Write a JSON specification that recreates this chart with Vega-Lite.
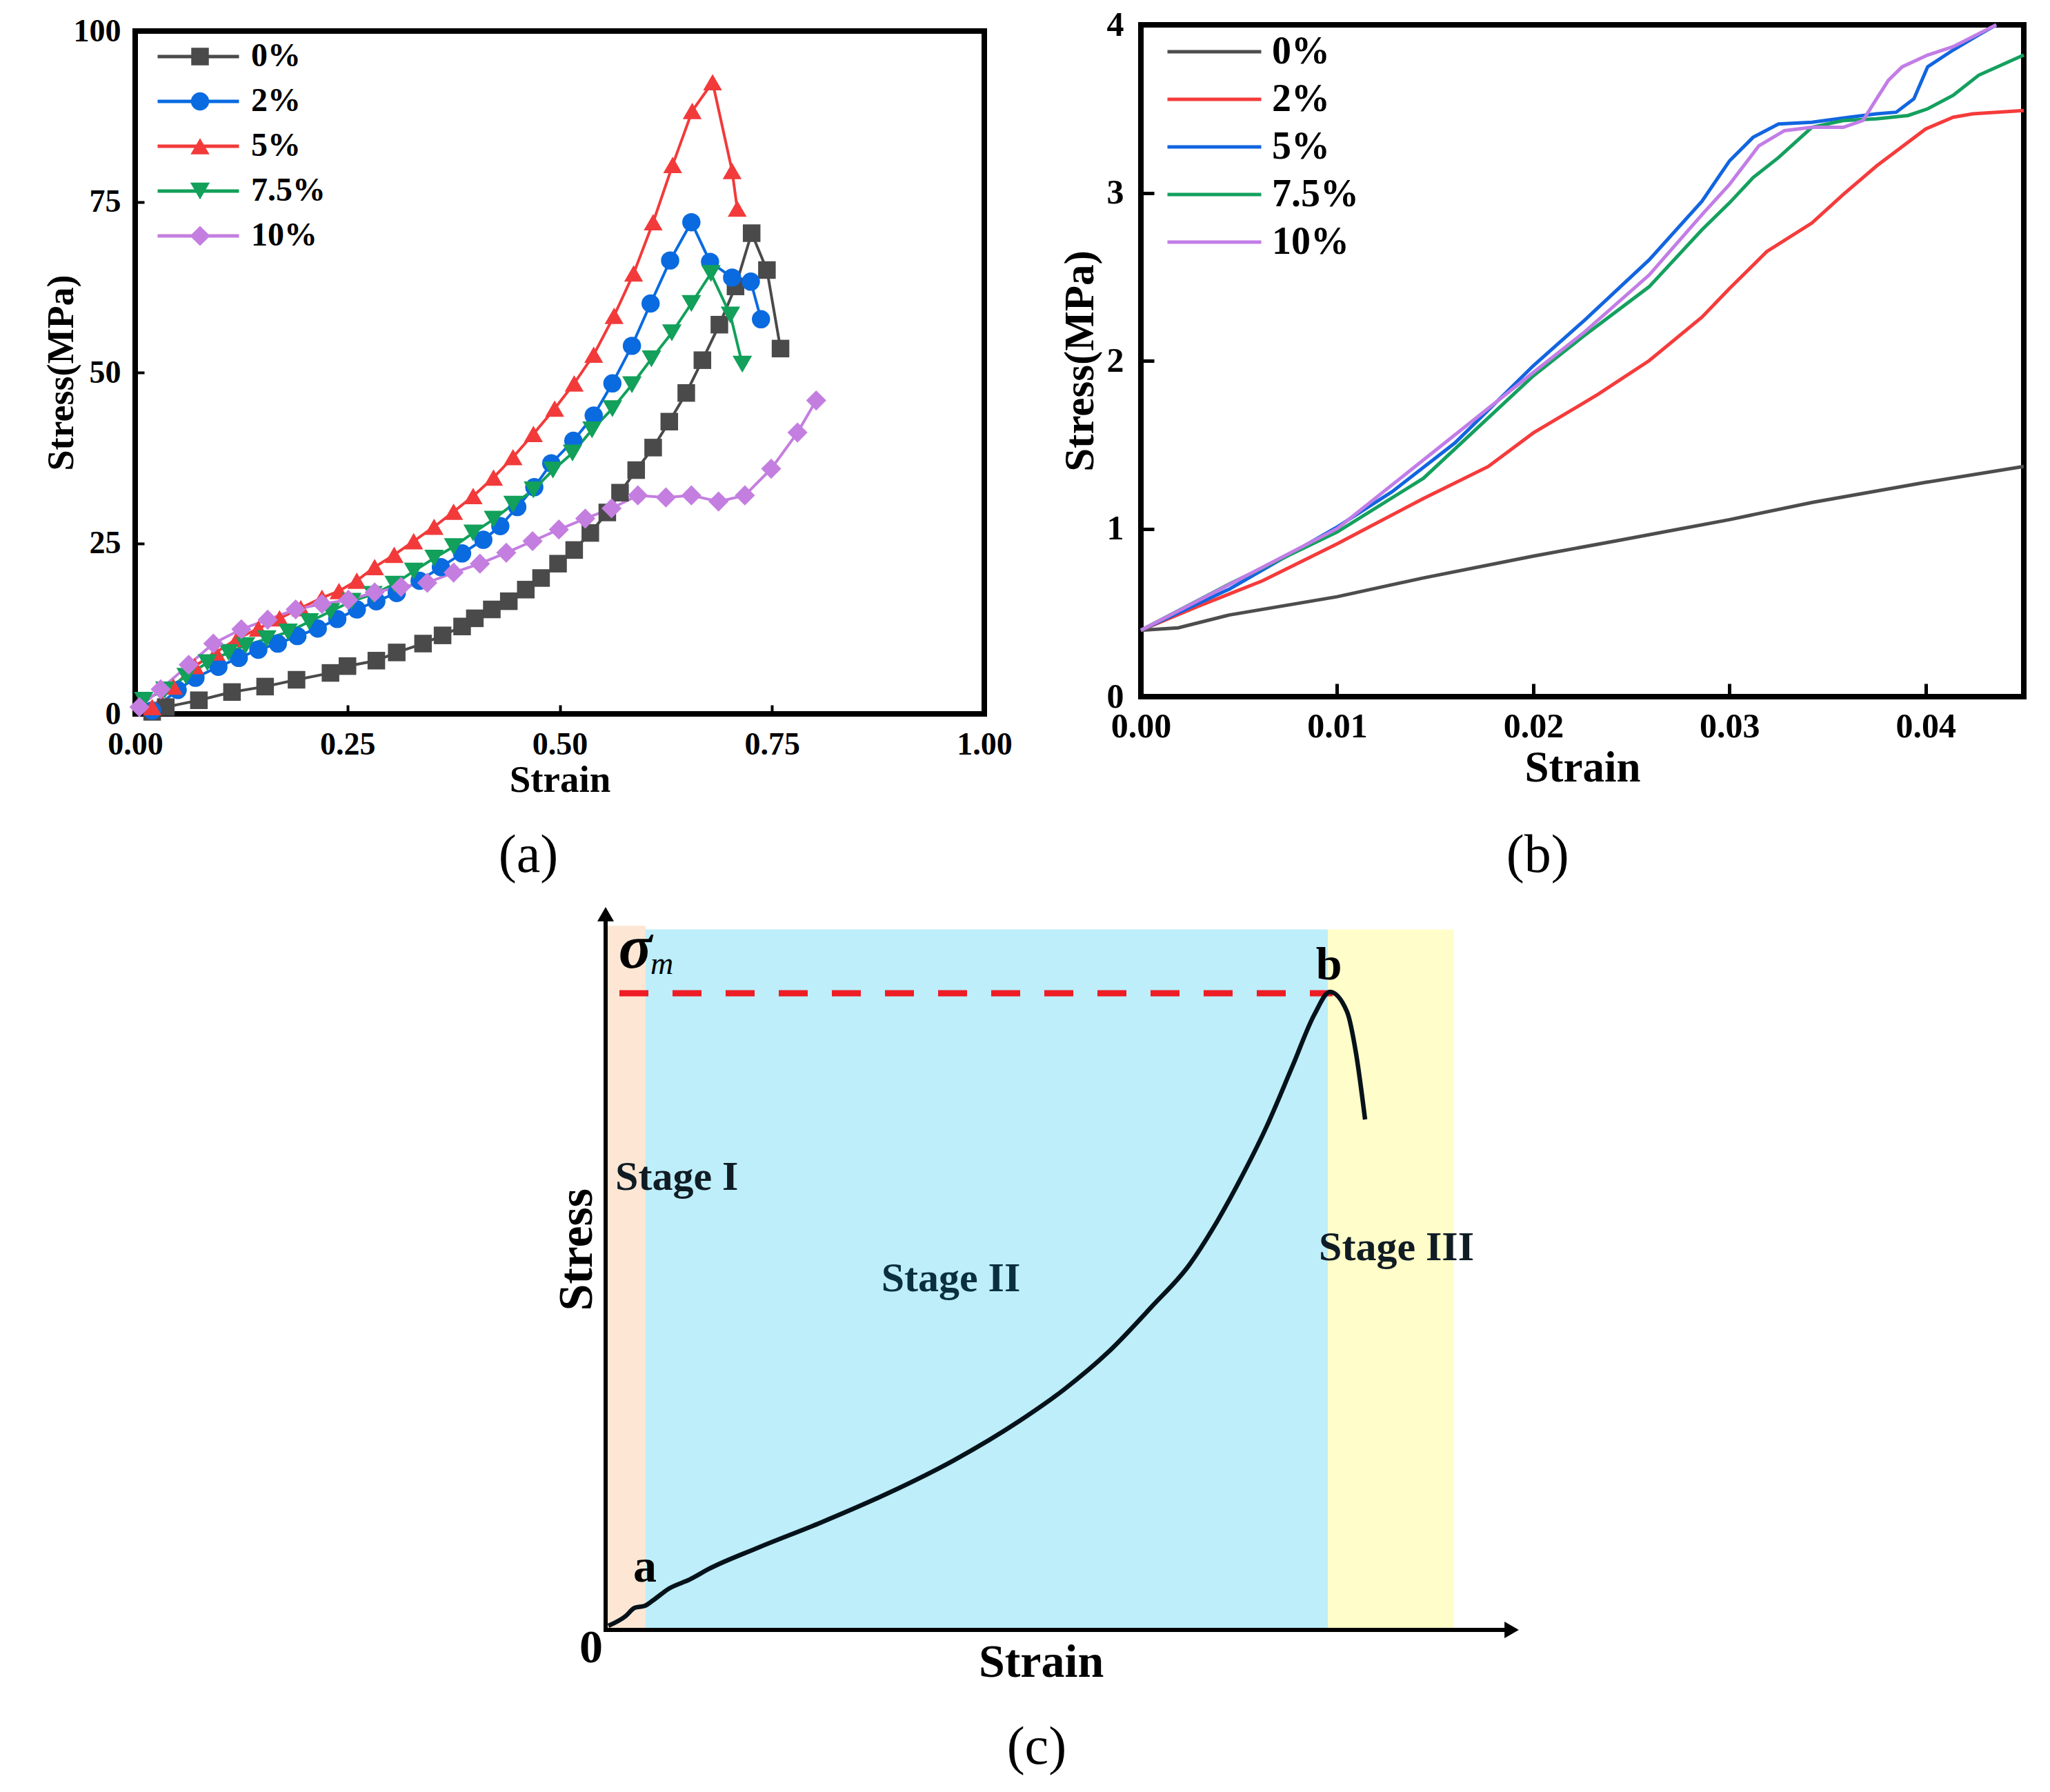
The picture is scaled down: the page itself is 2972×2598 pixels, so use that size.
{
  "$schema": "https://vega.github.io/schema/vega-lite/v6.json",
  "width": 2972,
  "height": 2598,
  "autosize": {"type": "none"},
  "padding": 0,
  "background": "white",
  "config": {"view": {"stroke": null}, "font": "Liberation Serif"},
  "datasets": {
    "a": [
      {"s":"0%","x":0.02,"y":0.3},{"s":"0%","x":0.036,"y":1},{"s":"0%","x":0.075,"y":2},{"s":"0%","x":0.114,"y":3.2},{"s":"0%","x":0.153,"y":4},{"s":"0%","x":0.19,"y":5},{"s":"0%","x":0.23,"y":6},{"s":"0%","x":0.25,"y":7},{"s":"0%","x":0.284,"y":7.8},{"s":"0%","x":0.308,"y":9},{"s":"0%","x":0.339,"y":10.3},{"s":"0%","x":0.362,"y":11.5},{"s":"0%","x":0.385,"y":12.8},{"s":"0%","x":0.4,"y":14},{"s":"0%","x":0.42,"y":15.3},{"s":"0%","x":0.44,"y":16.5},{"s":"0%","x":0.46,"y":18.2},{"s":"0%","x":0.478,"y":19.9},{"s":"0%","x":0.498,"y":22},{"s":"0%","x":0.517,"y":24},{"s":"0%","x":0.536,"y":26.5},{"s":"0%","x":0.556,"y":29.5},{"s":"0%","x":0.571,"y":32.4},{"s":"0%","x":0.59,"y":35.7},{"s":"0%","x":0.61,"y":39},{"s":"0%","x":0.629,"y":42.8},{"s":"0%","x":0.649,"y":47},{"s":"0%","x":0.668,"y":51.8},{"s":"0%","x":0.688,"y":57},{"s":"0%","x":0.707,"y":62.6},{"s":"0%","x":0.726,"y":70.4},{"s":"0%","x":0.744,"y":65},{"s":"0%","x":0.76,"y":53.5},
      {"s":"2%","x":0.02,"y":0.5},{"s":"2%","x":0.05,"y":3.5},{"s":"2%","x":0.071,"y":5.3},{"s":"2%","x":0.098,"y":6.9},{"s":"2%","x":0.122,"y":8.2},{"s":"2%","x":0.145,"y":9.4},{"s":"2%","x":0.168,"y":10.3},{"s":"2%","x":0.191,"y":11.4},{"s":"2%","x":0.215,"y":12.5},{"s":"2%","x":0.238,"y":13.9},{"s":"2%","x":0.261,"y":15.3},{"s":"2%","x":0.284,"y":16.5},{"s":"2%","x":0.308,"y":17.7},{"s":"2%","x":0.335,"y":19.5},{"s":"2%","x":0.36,"y":21.5},{"s":"2%","x":0.385,"y":23.5},{"s":"2%","x":0.41,"y":25.5},{"s":"2%","x":0.43,"y":27.5},{"s":"2%","x":0.45,"y":30.3},{"s":"2%","x":0.47,"y":33.2},{"s":"2%","x":0.49,"y":36.7},{"s":"2%","x":0.516,"y":40},{"s":"2%","x":0.54,"y":43.7},{"s":"2%","x":0.562,"y":48.4},{"s":"2%","x":0.585,"y":53.9},{"s":"2%","x":0.607,"y":60.1},{"s":"2%","x":0.63,"y":66.4},{"s":"2%","x":0.655,"y":72},{"s":"2%","x":0.677,"y":66.2},{"s":"2%","x":0.703,"y":63.9},{"s":"2%","x":0.725,"y":63.3},{"s":"2%","x":0.737,"y":57.8},
      {"s":"5%","x":0.02,"y":1},{"s":"5%","x":0.045,"y":4},{"s":"5%","x":0.07,"y":7},{"s":"5%","x":0.095,"y":9},{"s":"5%","x":0.12,"y":11},{"s":"5%","x":0.145,"y":12.5},{"s":"5%","x":0.17,"y":14},{"s":"5%","x":0.195,"y":15.5},{"s":"5%","x":0.22,"y":17},{"s":"5%","x":0.24,"y":18},{"s":"5%","x":0.261,"y":19.5},{"s":"5%","x":0.282,"y":21.5},{"s":"5%","x":0.305,"y":23.3},{"s":"5%","x":0.328,"y":25.3},{"s":"5%","x":0.352,"y":27.4},{"s":"5%","x":0.375,"y":29.6},{"s":"5%","x":0.398,"y":31.9},{"s":"5%","x":0.422,"y":34.6},{"s":"5%","x":0.445,"y":37.6},{"s":"5%","x":0.469,"y":41},{"s":"5%","x":0.494,"y":44.7},{"s":"5%","x":0.517,"y":48.4},{"s":"5%","x":0.54,"y":52.6},{"s":"5%","x":0.564,"y":58.3},{"s":"5%","x":0.587,"y":64.5},{"s":"5%","x":0.61,"y":72},{"s":"5%","x":0.633,"y":80.4},{"s":"5%","x":0.656,"y":88.3},{"s":"5%","x":0.68,"y":92.5},{"s":"5%","x":0.703,"y":79.5},{"s":"5%","x":0.709,"y":74},
      {"s":"7.5%","x":0.01,"y":2},{"s":"7.5%","x":0.035,"y":3.5},{"s":"7.5%","x":0.06,"y":5.5},{"s":"7.5%","x":0.085,"y":7.5},{"s":"7.5%","x":0.11,"y":9},{"s":"7.5%","x":0.13,"y":10},{"s":"7.5%","x":0.155,"y":11},{"s":"7.5%","x":0.18,"y":12},{"s":"7.5%","x":0.205,"y":13.5},{"s":"7.5%","x":0.23,"y":15},{"s":"7.5%","x":0.255,"y":16.5},{"s":"7.5%","x":0.28,"y":17.5},{"s":"7.5%","x":0.305,"y":19},{"s":"7.5%","x":0.328,"y":20.9},{"s":"7.5%","x":0.352,"y":22.8},{"s":"7.5%","x":0.375,"y":24.5},{"s":"7.5%","x":0.398,"y":26.5},{"s":"7.5%","x":0.422,"y":28.5},{"s":"7.5%","x":0.445,"y":30.7},{"s":"7.5%","x":0.469,"y":32.8},{"s":"7.5%","x":0.492,"y":35.7},{"s":"7.5%","x":0.515,"y":38.2},{"s":"7.5%","x":0.538,"y":41.6},{"s":"7.5%","x":0.562,"y":44.7},{"s":"7.5%","x":0.585,"y":48.2},{"s":"7.5%","x":0.608,"y":52},{"s":"7.5%","x":0.632,"y":55.8},{"s":"7.5%","x":0.655,"y":60.1},{"s":"7.5%","x":0.678,"y":64.5},{"s":"7.5%","x":0.701,"y":58.4},{"s":"7.5%","x":0.715,"y":51.2},
      {"s":"10%","x":0.005,"y":1},{"s":"10%","x":0.03,"y":3.6},{"s":"10%","x":0.063,"y":7.2},{"s":"10%","x":0.092,"y":10.3},{"s":"10%","x":0.125,"y":12.4},{"s":"10%","x":0.156,"y":13.8},{"s":"10%","x":0.189,"y":15.3},{"s":"10%","x":0.22,"y":16.1},{"s":"10%","x":0.251,"y":16.7},{"s":"10%","x":0.282,"y":17.8},{"s":"10%","x":0.313,"y":18.6},{"s":"10%","x":0.344,"y":19.2},{"s":"10%","x":0.375,"y":20.7},{"s":"10%","x":0.406,"y":22},{"s":"10%","x":0.437,"y":23.6},{"s":"10%","x":0.468,"y":25.3},{"s":"10%","x":0.499,"y":27},{"s":"10%","x":0.53,"y":28.6},{"s":"10%","x":0.561,"y":30.1},{"s":"10%","x":0.592,"y":32},{"s":"10%","x":0.625,"y":31.7},{"s":"10%","x":0.655,"y":32},{"s":"10%","x":0.687,"y":31.1},{"s":"10%","x":0.718,"y":32},{"s":"10%","x":0.749,"y":35.9},{"s":"10%","x":0.78,"y":41.2},{"s":"10%","x":0.802,"y":45.9}
    ],
    "b": [
      {"s":"0%","x":0,"y":0.395},{"s":"0%","x":0.0019,"y":0.41},{"s":"0%","x":0.0045,"y":0.486},{"s":"0%","x":0.01,"y":0.595},{"s":"0%","x":0.0144,"y":0.707},{"s":"0%","x":0.02,"y":0.837},{"s":"0%","x":0.0243,"y":0.929},{"s":"0%","x":0.03,"y":1.054},{"s":"0%","x":0.0342,"y":1.156},{"s":"0%","x":0.04,"y":1.276},{"s":"0%","x":0.045,"y":1.371},
      {"s":"2%","x":0,"y":0.395},{"s":"2%","x":0.0029,"y":0.537},{"s":"2%","x":0.0062,"y":0.69},{"s":"2%","x":0.01,"y":0.91},{"s":"2%","x":0.0144,"y":1.18},{"s":"2%","x":0.0177,"y":1.37},{"s":"2%","x":0.02,"y":1.57},{"s":"2%","x":0.0233,"y":1.8},{"s":"2%","x":0.0259,"y":2.0},{"s":"2%","x":0.0286,"y":2.26},{"s":"2%","x":0.03,"y":2.43},{"s":"2%","x":0.0319,"y":2.65},{"s":"2%","x":0.0342,"y":2.82},{"s":"2%","x":0.0358,"y":2.99},{"s":"2%","x":0.0375,"y":3.16},{"s":"2%","x":0.04,"y":3.38},{"s":"2%","x":0.0414,"y":3.45},{"s":"2%","x":0.0424,"y":3.47},{"s":"2%","x":0.045,"y":3.49},
      {"s":"5%","x":0,"y":0.395},{"s":"5%","x":0.0045,"y":0.64},{"s":"5%","x":0.01,"y":1.01},{"s":"5%","x":0.0128,"y":1.22},{"s":"5%","x":0.016,"y":1.51},{"s":"5%","x":0.02,"y":1.97},{"s":"5%","x":0.0226,"y":2.24},{"s":"5%","x":0.0259,"y":2.6},{"s":"5%","x":0.0286,"y":2.95},{"s":"5%","x":0.03,"y":3.19},{"s":"5%","x":0.0312,"y":3.33},{"s":"5%","x":0.0325,"y":3.41},{"s":"5%","x":0.0342,"y":3.42},{"s":"5%","x":0.0361,"y":3.45},{"s":"5%","x":0.0375,"y":3.47},{"s":"5%","x":0.0385,"y":3.48},{"s":"5%","x":0.0394,"y":3.56},{"s":"5%","x":0.0401,"y":3.75},{"s":"5%","x":0.0414,"y":3.85},{"s":"5%","x":0.0427,"y":3.94},{"s":"5%","x":0.0436,"y":4.0},
      {"s":"7.5%","x":0,"y":0.395},{"s":"7.5%","x":0.0045,"y":0.67},{"s":"7.5%","x":0.01,"y":0.98},{"s":"7.5%","x":0.0144,"y":1.3},{"s":"7.5%","x":0.02,"y":1.91},{"s":"7.5%","x":0.0226,"y":2.15},{"s":"7.5%","x":0.0259,"y":2.44},{"s":"7.5%","x":0.0286,"y":2.78},{"s":"7.5%","x":0.03,"y":2.94},{"s":"7.5%","x":0.0312,"y":3.09},{"s":"7.5%","x":0.0325,"y":3.21},{"s":"7.5%","x":0.0342,"y":3.39},{"s":"7.5%","x":0.0358,"y":3.43},{"s":"7.5%","x":0.0375,"y":3.44},{"s":"7.5%","x":0.0391,"y":3.46},{"s":"7.5%","x":0.0401,"y":3.5},{"s":"7.5%","x":0.0414,"y":3.58},{"s":"7.5%","x":0.0427,"y":3.7},{"s":"7.5%","x":0.045,"y":3.82},
      {"s":"10%","x":0,"y":0.395},{"s":"10%","x":0.01,"y":1.0},{"s":"10%","x":0.02,"y":1.93},{"s":"10%","x":0.0226,"y":2.17},{"s":"10%","x":0.0259,"y":2.51},{"s":"10%","x":0.0286,"y":2.87},{"s":"10%","x":0.03,"y":3.05},{"s":"10%","x":0.0315,"y":3.28},{"s":"10%","x":0.0328,"y":3.37},{"s":"10%","x":0.0342,"y":3.39},{"s":"10%","x":0.0358,"y":3.39},{"s":"10%","x":0.0368,"y":3.43},{"s":"10%","x":0.0375,"y":3.56},{"s":"10%","x":0.0381,"y":3.67},{"s":"10%","x":0.0388,"y":3.75},{"s":"10%","x":0.0401,"y":3.82},{"s":"10%","x":0.0414,"y":3.87},{"s":"10%","x":0.0436,"y":4.0}
    ],
    "curve": [
      {"x":0.3,"y":0.57},{"x":2.19,"y":1.91},{"x":3.17,"y":3.05},{"x":4.31,"y":3.34},{"x":5.21,"y":4.1},{"x":6.95,"y":5.73},{"x":9.21,"y":6.97},{"x":11.25,"y":8.4},{"x":16.47,"y":11.26},{"x":23.64,"y":14.89},{"x":30.89,"y":18.89},{"x":38.14,"y":23.47},{"x":45.32,"y":28.91},{"x":50.15,"y":33.21},{"x":54.98,"y":38.36},{"x":59.82,"y":44.75},{"x":63.9,"y":50.48},{"x":66.99,"y":56.58},{"x":69.41,"y":62.12},{"x":72.28,"y":69.37},{"x":75.23,"y":78.05},{"x":77.64,"y":85.21},{"x":79.31,"y":88.26},{"x":81.19,"y":85.5},{"x":82.18,"y":79.68},{"x":83.16,"y":70.61}
    ]
  },
  "layer": [
    {
      "layer": [
        {
          "data": {"values": [{"x0":0,"x1":1,"y0":0,"y1":100}]},
          "mark": {"type":"rect","fillOpacity":0,"stroke":"black","strokeWidth":8},
          "encoding": {
            "x": {"field":"x0","type":"quantitative","scale":{"domain":[0,1],"range":[196,1427],"nice":false,"zero":false},
              "axis":{"orient":"bottom","offset":-1563,"values":[0,0.25,0.5,0.75,1],"format":".2f","domain":false,"grid":false,"tickSize":-13,"tickWidth":4,"tickColor":"black","labelFont":"Liberation Serif","labelFontWeight":"bold","labelFontSize":46,"labelColor":"black","labelPadding":35,"labelFlush":false,"labelOverlap":false,"labelBound":false,"title":"Strain","titleFont":"Liberation Serif","titleFontWeight":"bold","titleFontSize":55,"titleColor":"black","titleY":95,"titleBaseline":"middle"}},
            "x2": {"field":"x1"},
            "y": {"field":"y0","type":"quantitative","scale":{"domain":[0,100],"range":[1035,45],"nice":false,"zero":false},
              "axis":{"orient":"left","offset":-196,"values":[0,25,50,75,100],"format":"d","domain":false,"grid":false,"tickSize":-13,"tickWidth":4,"tickColor":"black","labelFont":"Liberation Serif","labelFontWeight":"bold","labelFontSize":46,"labelColor":"black","labelPadding":34,"labelFlush":false,"labelOverlap":false,"labelBound":false,"title":"Stress(MPa)","titleFont":"Liberation Serif","titleFontWeight":"bold","titleFontSize":54,"titleColor":"black","titleX":-107,"titleBaseline":"middle"}},
            "y2": {"field":"y1"}
          }
        },
        {
          "data": {"name":"a"},
          "mark": {"type":"line","strokeWidth":4},
          "encoding": {
            "x": {"field":"x","type":"quantitative","scale":{"domain":[0,1],"range":[196,1427],"nice":false,"zero":false}},
            "y": {"field":"y","type":"quantitative","scale":{"domain":[0,100],"range":[1035,45],"nice":false,"zero":false}},
            "color": {"field":"s","type":"nominal","scale":{"domain":["0%","2%","5%","7.5%","10%"],"range":["#4a4a4a","#0a6ae0","#f23a3a","#12a05a","#c47ee0"]},
              "legend":{"orient":"none","legendX":226,"legendY":58,"padding":0,"title":null,"symbolType":"stroke","symbolSize":13924,"symbolStrokeWidth":5,"clipHeight":48,"labelFont":"Liberation Serif","labelFontWeight":"bold","labelFontSize":48,"labelColor":"black","labelOffset":15,"rowPadding":17}}
          }
        },
        {
          "data": {"name":"a"},
          "mark": {"type":"point","filled":true,"opacity":1,"strokeWidth":0},
          "encoding": {
            "x": {"field":"x","type":"quantitative","scale":{"domain":[0,1],"range":[196,1427],"nice":false,"zero":false}},
            "y": {"field":"y","type":"quantitative","scale":{"domain":[0,100],"range":[1035,45],"nice":false,"zero":false}},
            "size": {"field":"s","type":"nominal","scale":{"domain":["0%","2%","5%","7.5%","10%"],"range":[650,850,950,950,1300]},"legend":null},
            "color": {"field":"s","type":"nominal","scale":{"domain":["0%","2%","5%","7.5%","10%"],"range":["#4a4a4a","#0a6ae0","#f23a3a","#12a05a","#c47ee0"]},
              "legend":{"orient":"none","legendX":266,"legendY":58,"padding":0,"title":null,"symbolSize":750,"symbolStrokeWidth":0,"symbolOpacity":1,"clipHeight":48,"labelFont":"Liberation Serif","labelFontWeight":"bold","labelFontSize":48,"labelExpr":"''","labelOffset":15,"rowPadding":17}},
            "shape": {"field":"s","type":"nominal","scale":{"domain":["0%","2%","5%","7.5%","10%"],"range":["square","circle","triangle-up","triangle-down","diamond"]},
              "legend":{"orient":"none","legendX":266,"legendY":58,"padding":0,"title":null,"symbolSize":750,"symbolStrokeWidth":0,"symbolOpacity":1,"clipHeight":48,"labelFont":"Liberation Serif","labelFontWeight":"bold","labelFontSize":48,"labelExpr":"''","labelOffset":15,"rowPadding":17}}
          }
        },
        {
          "data": {"values": [{"x":0.463,"y":-20.8,"t":"(a)"}]},
          "mark": {"type":"text","font":"Liberation Serif","fontSize":78,"color":"black","align":"center","baseline":"middle"},
          "encoding": {
            "x": {"field":"x","type":"quantitative","scale":{"domain":[0,1],"range":[196,1427],"nice":false,"zero":false}},
            "y": {"field":"y","type":"quantitative","scale":{"domain":[0,100],"range":[1035,45],"nice":false,"zero":false}},
            "text": {"field":"t"}
          }
        }
      ],
      "resolve": {"scale": {"color":"independent","shape":"independent","size":"independent"}, "legend": {"color":"independent","shape":"independent","size":"independent"}}
    },
    {
      "layer": [
        {
          "data": {"values": [{"x0":0,"x1":0.045,"y0":0,"y1":4}]},
          "mark": {"type":"rect","fillOpacity":0,"stroke":"black","strokeWidth":8},
          "encoding": {
            "x": {"field":"x0","type":"quantitative","scale":{"domain":[0,0.045],"range":[1654,2934],"nice":false,"zero":false},
              "axis":{"orient":"bottom","offset":-1588,"values":[0,0.01,0.02,0.03,0.04],"format":".2f","domain":false,"grid":false,"tickSize":-19,"tickWidth":5,"tickColor":"black","labelFont":"Liberation Serif","labelFontWeight":"bold","labelFontSize":50,"labelColor":"black","labelPadding":37,"labelFlush":false,"labelOverlap":false,"labelBound":false,"title":"Strain","titleFont":"Liberation Serif","titleFontWeight":"bold","titleFontSize":63,"titleColor":"black","titleY":103,"titleBaseline":"middle"}},
            "x2": {"field":"x1"},
            "y": {"field":"y0","type":"quantitative","scale":{"domain":[0,4],"range":[1010,36],"nice":false,"zero":false},
              "axis":{"orient":"left","offset":-1654,"values":[0,1,2,3,4],"format":"d","domain":false,"grid":false,"tickSize":-19,"tickWidth":5,"tickColor":"black","labelFont":"Liberation Serif","labelFontWeight":"bold","labelFontSize":50,"labelColor":"black","labelPadding":44,"labelFlush":false,"labelOverlap":false,"labelBound":false,"title":"Stress(MPa)","titleFont":"Liberation Serif","titleFontWeight":"bold","titleFontSize":61,"titleColor":"black","titleX":-88,"titleBaseline":"middle"}},
            "y2": {"field":"y1"}
          }
        },
        {
          "data": {"name":"b"},
          "mark": {"type":"line","strokeWidth":5},
          "encoding": {
            "x": {"field":"x","type":"quantitative","scale":{"domain":[0,0.045],"range":[1654,2934],"nice":false,"zero":false}},
            "y": {"field":"y","type":"quantitative","scale":{"domain":[0,4],"range":[1010,36],"nice":false,"zero":false}},
            "color": {"field":"s","type":"nominal","scale":{"domain":["0%","2%","5%","7.5%","10%"],"range":["#4d4d4d","#f53b3b","#1265e0","#14a05e","#c27de6"]},
              "legend":{"orient":"none","legendX":1690,"legendY":50,"padding":0,"title":null,"symbolType":"stroke","symbolSize":18496,"symbolStrokeWidth":5,"clipHeight":50,"labelFont":"Liberation Serif","labelFontWeight":"bold","labelFontSize":56,"labelColor":"black","labelOffset":13,"rowPadding":13}}
          }
        },
        {
          "data": {"values": [{"x":0.02022,"y":-0.949,"t":"(b)"}]},
          "mark": {"type":"text","font":"Liberation Serif","fontSize":78,"color":"black","align":"center","baseline":"middle"},
          "encoding": {
            "x": {"field":"x","type":"quantitative","scale":{"domain":[0,0.045],"range":[1654,2934],"nice":false,"zero":false}},
            "y": {"field":"y","type":"quantitative","scale":{"domain":[0,4],"range":[1010,36],"nice":false,"zero":false}},
            "text": {"field":"t"}
          }
        }
      ]
    },
    {
      "encoding": {
        "x": {"field":"x","type":"quantitative","scale":{"domain":[0,100],"range":[878,2202],"nice":false,"zero":false},"axis":null},
        "y": {"field":"y","type":"quantitative","scale":{"domain":[0,100],"range":[2363,1315],"nice":false,"zero":false},"axis":null}
      },
      "layer": [
        {
          "data": {"values": [{"stage":"I","x":0,"x1":4.38,"y":0,"y1":97.4},{"stage":"II","x":4.38,"x1":79.08,"y":0,"y1":96.9},{"stage":"III","x":79.08,"x1":92.9,"y":0,"y1":96.9}]},
          "mark": {"type":"rect","opacity":1},
          "encoding": {
            "x2": {"field":"x1"},
            "y2": {"field":"y1"},
            "color": {"field":"stage","type":"nominal","scale":{"domain":["I","II","III"],"range":["#fde6d4","#bdeefa","#fffdc9"]},"legend":null}
          }
        },
        {
          "data": {"values": [{"x":1.51,"x1":79.6,"y":88.07}]},
          "mark": {"type":"rule","color":"#ee1c25","strokeWidth":9,"strokeDash":[42,35],"strokeCap":"butt"},
          "encoding": {"x2": {"field":"x1"}}
        },
        {
          "data": {"name":"curve"},
          "mark": {"type":"line","color":"#06121a","strokeWidth":6.5,"interpolate":"monotone"},
          "encoding": {}
        },
        {
          "data": {"values": [{"x":0,"x1":0,"y":0,"y1":98.5},{"x":0,"x1":98.8,"y":0,"y1":0}]},
          "mark": {"type":"rule","color":"black","strokeWidth":6,"strokeCap":"square"},
          "encoding": {"x2": {"field":"x1"}, "y2": {"field":"y1"}}
        },
        {
          "data": {"values": [{"x":0,"y":99.0}]},
          "mark": {"type":"point","shape":"triangle-up","filled":true,"color":"black","size":576,"opacity":1},
          "encoding": {}
        },
        {
          "data": {"values": [{"x":99.21,"y":0}]},
          "mark": {"type":"point","shape":"triangle-right","filled":true,"color":"black","size":576,"opacity":1},
          "encoding": {}
        },
        {
          "data": {"values": [{"x":3.25,"y":91.6,"t":"σ"}]},
          "mark": {"type":"text","font":"Liberation Serif","fontSize":90,"fontStyle":"italic","fontWeight":"bold","color":"black","align":"center","baseline":"alphabetic"},
          "encoding": {"text": {"field":"t"}}
        },
        {
          "data": {"values": [{"x":4.91,"y":90.7,"t":"m"}]},
          "mark": {"type":"text","font":"Liberation Serif","fontSize":46,"fontStyle":"italic","color":"black","align":"left","baseline":"alphabetic"},
          "encoding": {"text": {"field":"t"}}
        },
        {
          "data": {"values": [{"x":79.2,"y":90.0,"t":"b"},{"x":4.31,"y":6.68,"t":"a"},{"x":-1.59,"y":-4.48,"t":"0"}]},
          "mark": {"type":"text","font":"Liberation Serif","fontSize":68,"fontWeight":"bold","color":"black","align":"center","baseline":"alphabetic"},
          "encoding": {"text": {"field":"t"}}
        },
        {
          "data": {"values": [{"x":1.06,"y":60.9,"t":"Stage I"},{"x":78.1,"y":51.1,"t":"Stage III"}]},
          "mark": {"type":"text","font":"Liberation Serif","fontSize":60,"fontWeight":"bold","color":"#101c24","align":"left","baseline":"alphabetic"},
          "encoding": {"text": {"field":"t"}}
        },
        {
          "data": {"values": [{"x":37.8,"y":46.85,"t":"Stage II"}]},
          "mark": {"type":"text","font":"Liberation Serif","fontSize":60,"fontWeight":"bold","color":"#0a2f3d","align":"center","baseline":"alphabetic"},
          "encoding": {"text": {"field":"t"}}
        },
        {
          "data": {"values": [{"x":47.7,"y":-6.49,"t":"Strain"}]},
          "mark": {"type":"text","font":"Liberation Serif","fontSize":68,"fontWeight":"bold","color":"black","align":"center","baseline":"alphabetic"},
          "encoding": {"text": {"field":"t"}}
        },
        {
          "data": {"values": [{"x":-1.51,"y":52.6,"t":"Stress"}]},
          "mark": {"type":"text","font":"Liberation Serif","fontSize":70,"fontWeight":"bold","color":"black","align":"center","baseline":"alphabetic","angle":270},
          "encoding": {"text": {"field":"t"}}
        },
        {
          "data": {"values": [{"x":47.2,"y":-16.3,"t":"(c)"}]},
          "mark": {"type":"text","font":"Liberation Serif","fontSize":78,"color":"black","align":"center","baseline":"middle"},
          "encoding": {"text": {"field":"t"}}
        }
      ]
    }
  ],
  "resolve": {
    "scale": {"x":"independent","y":"independent","color":"independent","shape":"independent","size":"independent"},
    "axis": {"x":"independent","y":"independent"},
    "legend": {"color":"independent","shape":"independent","size":"independent"}
  }
}
